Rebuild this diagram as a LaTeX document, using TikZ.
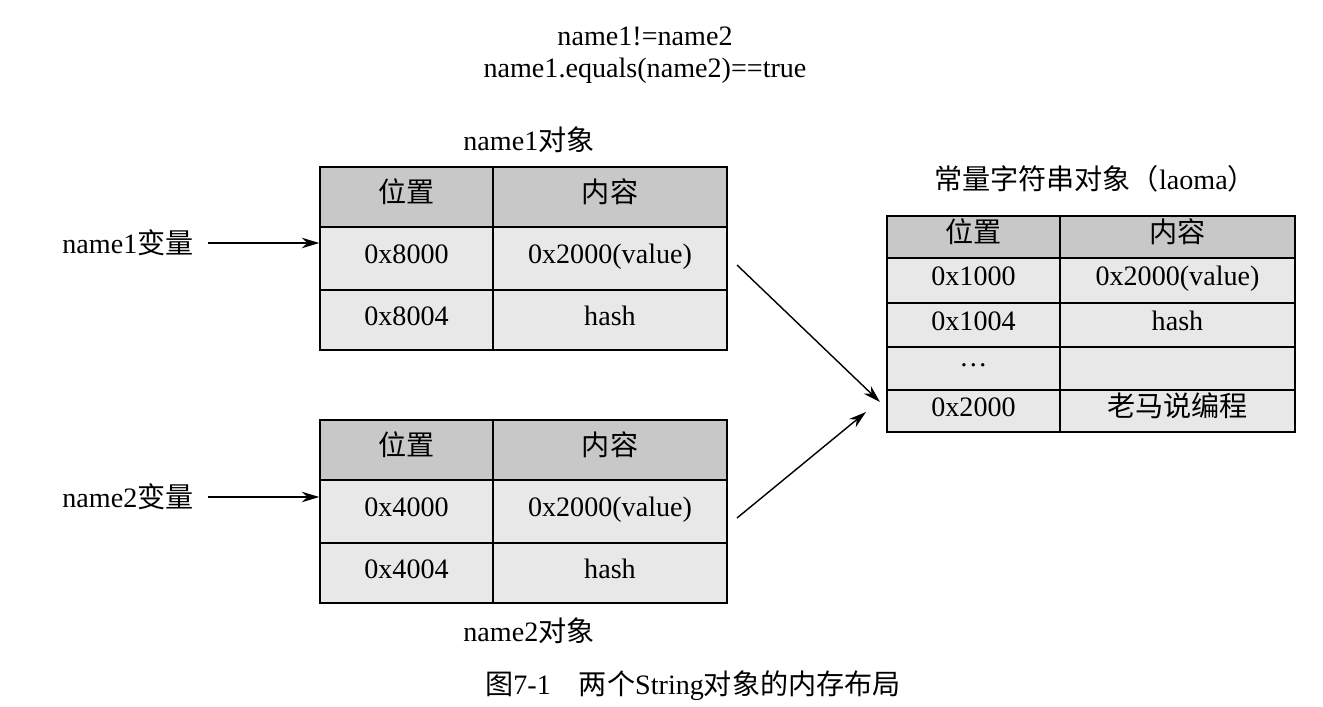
\documentclass[tikz,border=0pt]{standalone}
\usepackage{fontspec}
\setmainfont{Liberation Serif}
\newfontfamily\cjk{Noto Sans CJK SC}
\usetikzlibrary{arrows.meta}
\definecolor{headgray}{HTML}{C8C8C8}
\definecolor{bodygray}{HTML}{E8E8E8}
% cell: name, x1, y1, x2, y2, fill, text (pixel units)
\newcommand{\memcell}[7]{%
  \node[cell, fill=#6, minimum width={(#4-#2)*0.02cm}, minimum height={(#5-#3)*0.02cm}]
    (#1) at ({(#2+#4)/2},{(#3+#5)/2}) {#7};}
\begin{document}
\begin{tikzpicture}[x=0.02cm,y=-0.02cm,
  cell/.style={draw, thick, inner sep=0pt, text height=1.75ex, text depth=0.45ex,
    font=\fontsize{16}{18}\selectfont},
  lbl/.style={inner sep=1pt, font=\fontsize{16}{18}\selectfont},
  ptr/.style={-{Stealth[length=10pt,width=6pt]}, thick}]
\useasboundingbox (0,0) rectangle (1323,707);
\node[lbl] (eq1) at (645,36) {name1!=name2};
\node[lbl] (eq2) at (645,71) {name1.equals(name2)==true};
% name1 object
\node[lbl] (t1) at (529,140) {name1{\cjk 对象}};
\memcell{a11}{320}{167}{493}{227}{headgray}{\cjk 位置}
\memcell{a12}{493}{167}{727}{227}{headgray}{\cjk 内容}
\memcell{a21}{320}{227}{493}{290}{bodygray}{0x8000}
\memcell{a22}{493}{227}{727}{290}{bodygray}{0x2000(value)}
\memcell{a31}{320}{290}{493}{350}{bodygray}{0x8004}
\memcell{a32}{493}{290}{727}{350}{bodygray}{hash}
% name2 object
\memcell{b11}{320}{420}{493}{480}{headgray}{\cjk 位置}
\memcell{b12}{493}{420}{727}{480}{headgray}{\cjk 内容}
\memcell{b21}{320}{480}{493}{543}{bodygray}{0x4000}
\memcell{b22}{493}{480}{727}{543}{bodygray}{0x2000(value)}
\memcell{b31}{320}{543}{493}{603}{bodygray}{0x4004}
\memcell{b32}{493}{543}{727}{603}{bodygray}{hash}
\node[lbl] (t2) at (529,631) {name2{\cjk 对象}};
% constant string object
\node[lbl] (t3) at (1095,179) {{\cjk 常量字符串对象（}laoma{\cjk ）}};
\memcell{c11}{887}{216}{1060}{258}{headgray}{\cjk 位置}
\memcell{c12}{1060}{216}{1295}{258}{headgray}{\cjk 内容}
\memcell{c21}{887}{258}{1060}{303}{bodygray}{0x1000}
\memcell{c22}{1060}{258}{1295}{303}{bodygray}{0x2000(value)}
\memcell{c31}{887}{303}{1060}{347}{bodygray}{0x1004}
\memcell{c32}{1060}{303}{1295}{347}{bodygray}{hash}
\memcell{c41}{887}{347}{1060}{390}{bodygray}{\raisebox{4pt}{\dots}}
\memcell{c42}{1060}{347}{1295}{390}{bodygray}{}
\memcell{c51}{887}{390}{1060}{432}{bodygray}{0x2000}
\memcell{c52}{1060}{390}{1295}{432}{bodygray}{\cjk 老马说编程}
% variables
\node[lbl] (v1) at (128,243) {name1{\cjk 变量}};
\node[lbl] (v2) at (128,497) {name2{\cjk 变量}};
\draw[ptr] (v1.east) ++(12,0) coordinate (v1s) -- (a21.west |- v1s);
\draw[ptr] (v2.east) ++(12,0) coordinate (v2s) -- (b21.west |- v2s);
\coordinate (p1) at (737,265);
\coordinate (p2) at (737,518);
\coordinate (q1) at (880,402);
\coordinate (q2) at (866,412);
\draw[ptr] (p1) -- (q1);
\draw[ptr] (p2) -- (q2);
\node[lbl] (cap) at (693,686) {{\cjk 图}7-1\quad{\cjk 两个}String{\cjk 对象的内存布局}};
\end{tikzpicture}
\end{document}
